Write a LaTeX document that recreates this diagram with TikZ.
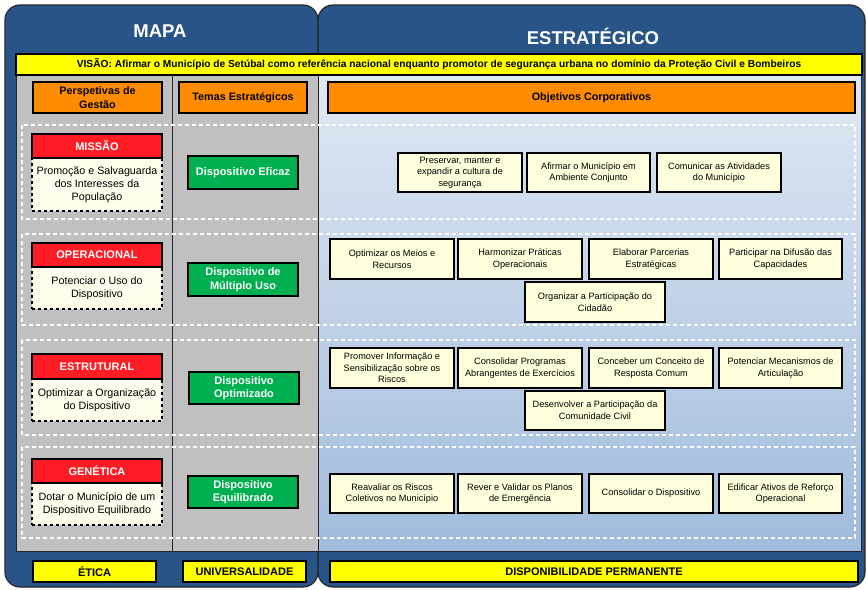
\documentclass[tikz,border=0pt]{standalone}
\usepackage{fontspec}
\setmainfont{Liberation Sans}
\definecolor{dblue}{RGB}{40,84,136}
\definecolor{ylw}{RGB}{255,255,0}
\definecolor{orng}{RGB}{255,140,0}
\definecolor{redb}{RGB}{255,28,36}
\definecolor{grn}{RGB}{0,176,80}
\definecolor{cream}{RGB}{255,253,235}
\definecolor{objfill}{RGB}{255,255,222}
\definecolor{greyarea}{RGB}{192,192,192}
\definecolor{bluetop}{RGB}{224,232,243}
\definecolor{bluebot}{RGB}{160,187,220}
\newcommand\bx[7]{\node[#2, minimum width={(#5-#3)*1pt}, minimum height={(#6-#4)*1pt}] (#1) at ({(#3+#5)/2},{(#4+#6)/2}) {#7};}
\tikzset{
  panel/.style={draw=black!85, line width=1.2pt, fill=dblue, rounded corners=15pt},
  base/.style={inner sep=0pt, outer sep=0pt, align=center},
  ybox/.style={base, draw=black, line width=1.2pt, fill=ylw, font=\bfseries\fontsize{11}{13}\selectfont},
  vbox/.style={base, draw=black, line width=1.2pt, fill=ylw, font=\bfseries\fontsize{10.2}{12}\selectfont},
  obox/.style={base, draw=black, line width=1.2pt, fill=orng, font=\bfseries\fontsize{10.8}{14}\selectfont},
  rbox/.style={base, draw=black, line width=1.2pt, fill=redb, text=white, font=\bfseries\fontsize{11}{13}\selectfont},
  cbox/.style={base, draw=black, line width=1.1pt, dashed, fill=cream, font=\fontsize{10.7}{13}\selectfont},
  gbox/.style={base, draw=black, line width=1.2pt, fill=grn, text=white, font=\bfseries\fontsize{11}{13.5}\selectfont},
  objbox/.style={base, draw=black, line width=1.3pt, fill=objfill, font=\fontsize{9.2}{11.6}\selectfont},
  rowbox/.style={draw=white, line width=1.1pt, dash pattern=on 4pt off 3pt},
  title/.style={text=white, font=\bfseries\fontsize{18.5}{22}\selectfont}
}
\begin{document}
\begin{tikzpicture}[x=1pt,y=-1pt]
\useasboundingbox (0,0) rectangle (867,589);
% panels
\draw[panel] (318,5) rectangle (865,587);
\draw[panel] (5,5) rectangle (318,587);
\node[title] (mapa) at (160,31) {MAPA};
\node[title] (estr) at (593,36) {ESTRATÉGICO};
% content areas
\fill[greyarea] (16,75) rectangle (318,551);
\shade[top color=bluetop, bottom color=bluebot] (318,75) rectangle (861,551);
\draw[black!85, line width=1pt] (16,75) rectangle (861,551);
\draw[black!85, line width=1pt] (172,75) -- (172,551);
\draw[black!85, line width=1pt] (318,75) -- (318,551);
% vision
\bx{visao}{vbox}{16}{54}{862}{75}{VISÃO: Afirmar o Município de Setúbal como referência nacional enquanto promotor de segurança urbana no domínio da Proteção Civil e Bombeiros}
% headers
\bx{hpersp}{obox}{33}{82}{162}{113}{Perspetivas de\\Gestão}
\bx{htemas}{obox}{179}{82}{307}{113}{Temas Estratégicos}
\bx{hobj}{obox}{328}{82}{855}{113}{Objetivos Corporativos}
% row frames
\draw[rowbox] (22,125) rectangle (855,219);
\draw[rowbox] (22,234) rectangle (855,325);
\draw[rowbox] (22,340) rectangle (855,435);
\draw[rowbox] (22,447) rectangle (855,538);
% perspectives
\bx{t1}{cbox}{32}{158}{162}{211}{Promoção e Salvaguarda\\dos Interesses da\\População}
\bx{p1}{rbox}{32}{134}{162}{158}{MISSÃO}
\bx{t2}{cbox}{32}{267}{162}{309}{Potenciar o Uso do\\Dispositivo}
\bx{p2}{rbox}{32}{243}{162}{267}{OPERACIONAL}
\bx{t3}{cbox}{32}{379}{162}{421}{Optimizar a Organização\\do Dispositivo}
\bx{p3}{rbox}{32}{354}{162}{379}{ESTRUTURAL}
\bx{t4}{cbox}{32}{483}{162}{525}{Dotar o Município de um\\Dispositivo Equilibrado}
\bx{p4}{rbox}{32}{459}{162}{483}{GENÉTICA}
% themes
\bx{g1}{gbox}{188}{156}{298}{189}{Dispositivo Eficaz}
\bx{g2}{gbox}{188}{263}{298}{296}{Dispositivo de\\Múltiplo Uso}
\bx{g3}{gbox}{189}{372}{299}{404}{Dispositivo\\Optimizado}
\bx{g4}{gbox}{188}{476}{298}{508}{Dispositivo\\Equilibrado}
% objectives row 1
\bx{o11}{objbox}{398}{153}{522}{192}{Preservar, manter e\\expandir a cultura de\\segurança}
\bx{o12}{objbox}{527}{153}{650}{192}{Afirmar o Município em\\Ambiente Conjunto}
\bx{o13}{objbox}{657}{153}{781}{192}{Comunicar as Atividades\\do Município}
% row 2
\bx{o21}{objbox}{330}{239}{454}{279}{Optimizar os Meios e\\Recursos}
\bx{o22}{objbox}{458}{239}{582}{279}{Harmonizar Práticas\\Operacionais}
\bx{o23}{objbox}{589}{239}{713}{279}{Elaborar Parcerias\\Estratégicas}
\bx{o24}{objbox}{719}{239}{842}{279}{Participar na Difusão das\\Capacidades}
\bx{o25}{objbox}{525}{282}{665}{322}{Organizar a Participação do\\Cidadão}
% row 3
\bx{o31}{objbox}{330}{348}{454}{388}{Promover Informação e\\Sensibilização sobre os\\Riscos}
\bx{o32}{objbox}{458}{348}{582}{388}{Consolidar Programas\\Abrangentes de Exercícios}
\bx{o33}{objbox}{589}{348}{713}{388}{Conceber um Conceito de\\Resposta Comum}
\bx{o34}{objbox}{719}{348}{842}{388}{Potenciar Mecanismos  de\\Articulação}
\bx{o35}{objbox}{525}{391}{665}{430}{Desenvolver a Participação da\\Comunidade Civil}
% row 4
\bx{o41}{objbox}{330}{474}{454}{513}{Reavaliar os Riscos\\Coletivos no Município}
\bx{o42}{objbox}{458}{474}{582}{513}{Rever e Validar os Planos\\de Emergência}
\bx{o43}{objbox}{589}{474}{713}{513}{Consolidar o Dispositivo}
\bx{o44}{objbox}{719}{474}{842}{513}{Edificar Ativos de Reforço\\Operacional}
% values
\bx{v1}{ybox}{33}{561}{156}{582}{ÉTICA}
\bx{v2}{ybox}{183}{561}{306}{582}{UNIVERSALIDADE}
\bx{v3}{ybox}{330}{561}{858}{582}{DISPONIBILIDADE PERMANENTE}
\end{tikzpicture}
\end{document}
